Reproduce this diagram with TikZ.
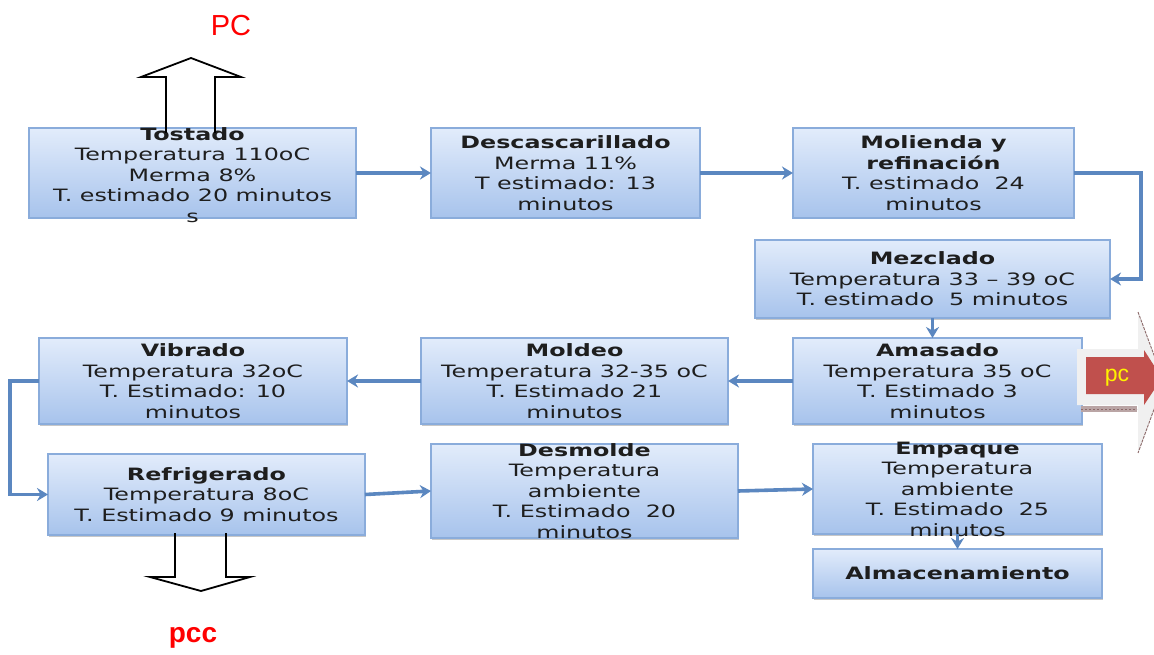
\documentclass[tikz,border=0pt]{standalone}
\usepackage{fontspec}
\setmainfont{Liberation Sans}
\newfontfamily\boxfont{DejaVu Sans}[FakeStretch=1.4]
\newfontfamily\labfont{Liberation Sans}
\usetikzlibrary{arrows.meta,shadows}
\definecolor{conncol}{HTML}{5B87C0}
\definecolor{boxtop}{HTML}{E2ECFB}
\definecolor{boxbot}{HTML}{A7C3EC}
\definecolor{boxedge}{HTML}{8AACDB}
\definecolor{pcred}{HTML}{C0504D}
\definecolor{pcgrey}{HTML}{F0F0F0}
\definecolor{pcbrown}{HTML}{8C6A6A}
\definecolor{txtcol}{HTML}{1E1E1E}
\tikzset{
  procbox/.style={rectangle, draw=boxedge, line width=1.2pt, top color=boxtop, bottom color=boxbot,
    inner sep=0pt, outer sep=0pt, drop shadow={shadow xshift=1.2pt, shadow yshift=-1.5pt, fill=gray!55, opacity=0.8}},
  boxtxt/.style={align=center, inner sep=0pt, text=txtcol, font=\boxfont\fontsize{17}{20.5}\selectfont},
  conn/.style={draw=conncol, line width=3.6pt, -{Stealth[length=11pt,width=13pt]}},
  fatarrow/.style={draw=black, line width=1.8pt, line join=miter},
}
\begin{document}
\begin{tikzpicture}[x=1pt, y=-1pt]
\path[use as bounding box, fill=white] (0,0) rectangle (1154,655);

% boxes
\node[procbox, minimum width=327pt, minimum height=90pt] (tost) at (192.5,173) {};
\node[procbox, minimum width=269pt, minimum height=90pt] (desc) at (565.5,173) {};
\node[procbox, minimum width=281pt, minimum height=90pt] (mol) at (933.5,173) {};
\node[procbox, minimum width=355pt, minimum height=78pt] (mez) at (932.5,279) {};
\node[procbox, minimum width=289pt, minimum height=86pt] (amas) at (937.5,381) {};
\node[procbox, minimum width=307pt, minimum height=86pt] (mold) at (574.5,381) {};
\node[procbox, minimum width=308pt, minimum height=86pt] (vib) at (193,381) {};
\node[procbox, minimum width=317pt, minimum height=81pt] (refr) at (206.5,494.5) {};
\node[procbox, minimum width=307pt, minimum height=94pt] (desm) at (584.5,491) {};
\node[procbox, minimum width=289pt, minimum height=90pt] (emp) at (957.5,489) {};
\node[procbox, minimum width=289pt, minimum height=49pt] (alm) at (957.5,573.5) {};

% texts
\node[boxtxt] (tostT) at (192.5,175) {\textbf{Tostado}\\Temperatura 110oC\\Merma 8\%\\T. estimado 20 minutos\\s};
\node[boxtxt] (descT) at (desc) {\textbf{Descascarillado}\\Merma 11\%\\T estimado: 13\\minutos};
\node[boxtxt] (molT) at (mol) {\textbf{Molienda y}\\\textbf{refinación}\\T. estimado~ 24\\minutos};
\node[boxtxt] (mezT) at (mez) {\textbf{Mezclado}\\Temperatura 33 – 39 oC\\T. estimado~ 5 minutos};
\node[boxtxt] (amasT) at (amas) {\textbf{Amasado}\\Temperatura 35 oC\\T. Estimado 3\\minutos};
\node[boxtxt] (moldT) at (mold) {\textbf{Moldeo}\\Temperatura 32-35 oC\\T. Estimado 21\\minutos};
\node[boxtxt] (vibT) at (vib) {\textbf{Vibrado}\\Temperatura 32oC\\T. Estimado: 10\\minutos};
\node[boxtxt] (refrT) at (refr) {\textbf{Refrigerado}\\Temperatura 8oC\\T. Estimado 9 minutos};
\node[boxtxt] (desmT) at (desm) {\textbf{Desmolde}\\Temperatura\\ambiente\\T. Estimado~ 20\\minutos};
\node[boxtxt] (empT) at (emp) {\textbf{Empaque}\\Temperatura\\ambiente\\T. Estimado~ 25\\minutos};
\node[boxtxt] (almT) at (alm) {\textbf{Almacenamiento}};

% connectors
\draw[conn] (tost.east) -- (desc.west);
\draw[conn] (desc.east) -- (mol.west);
\draw[conn] (mol.east) -- ++(67,0) |- (mez.east);
\draw[conn] (mez.south) -- (mez.south |- amas.north);
\draw[conn] (amas.west) -- (mold.east);
\draw[conn] (mold.west) -- (vib.east);
\draw[conn] (vib.west) -- ++(-29,0) |- (refr.west);
\draw[conn] (refr.east) -- (desm.west);
\draw[conn] (desm.east) -- (emp.west);
\draw[conn] (emp.south) -- (alm.north);

% hollow block arrows
\draw[fatarrow] (166,133) -- (166,77) -- (141,77) -- (191,58) -- (241,77) -- (215,77) -- (215,133);
\draw[fatarrow] (175,533) -- (175,577) -- (150,577) -- (201,591) -- (250,577) -- (226,577) -- (226,533);

% labels
\node[text=red, font=\labfont\fontsize{29}{32}\selectfont] (pcTop) at (231,26) {PC};
\node[text=red, font=\labfont\bfseries\fontsize{28}{30}\selectfont] (pccBot) at (193,638) {pcc};

% pc arrow on the right
\begin{scope}
\clip (0,0) rectangle (1154,655);
\fill[pcgrey] (1077,349) -- (1138,349) -- (1138,312) -- (1164,382) -- (1138,453) -- (1138,405) -- (1077,405) -- cycle;
\draw[pcbrown, line width=0.9pt, dash pattern=on 3pt off 1pt] (1138,312) -- (1164,382) -- (1138,453);
\fill[pcbrown!60!white] (1081,406) rectangle (1137,412);
\draw[pcbrown, line width=0.6pt, dash pattern=on 2pt off 2pt] (1081,409) -- (1137,409);
\fill[pcred] (1086,357) -- (1144,357) -- (1144,350) -- (1162,378) -- (1144,405) -- (1144,394) -- (1086,394) -- cycle;
\node[text=yellow, font=\labfont\fontsize{23}{25}\selectfont] (pcR) at (1117,378) {pc};
\end{scope}
\end{tikzpicture}
\end{document}
